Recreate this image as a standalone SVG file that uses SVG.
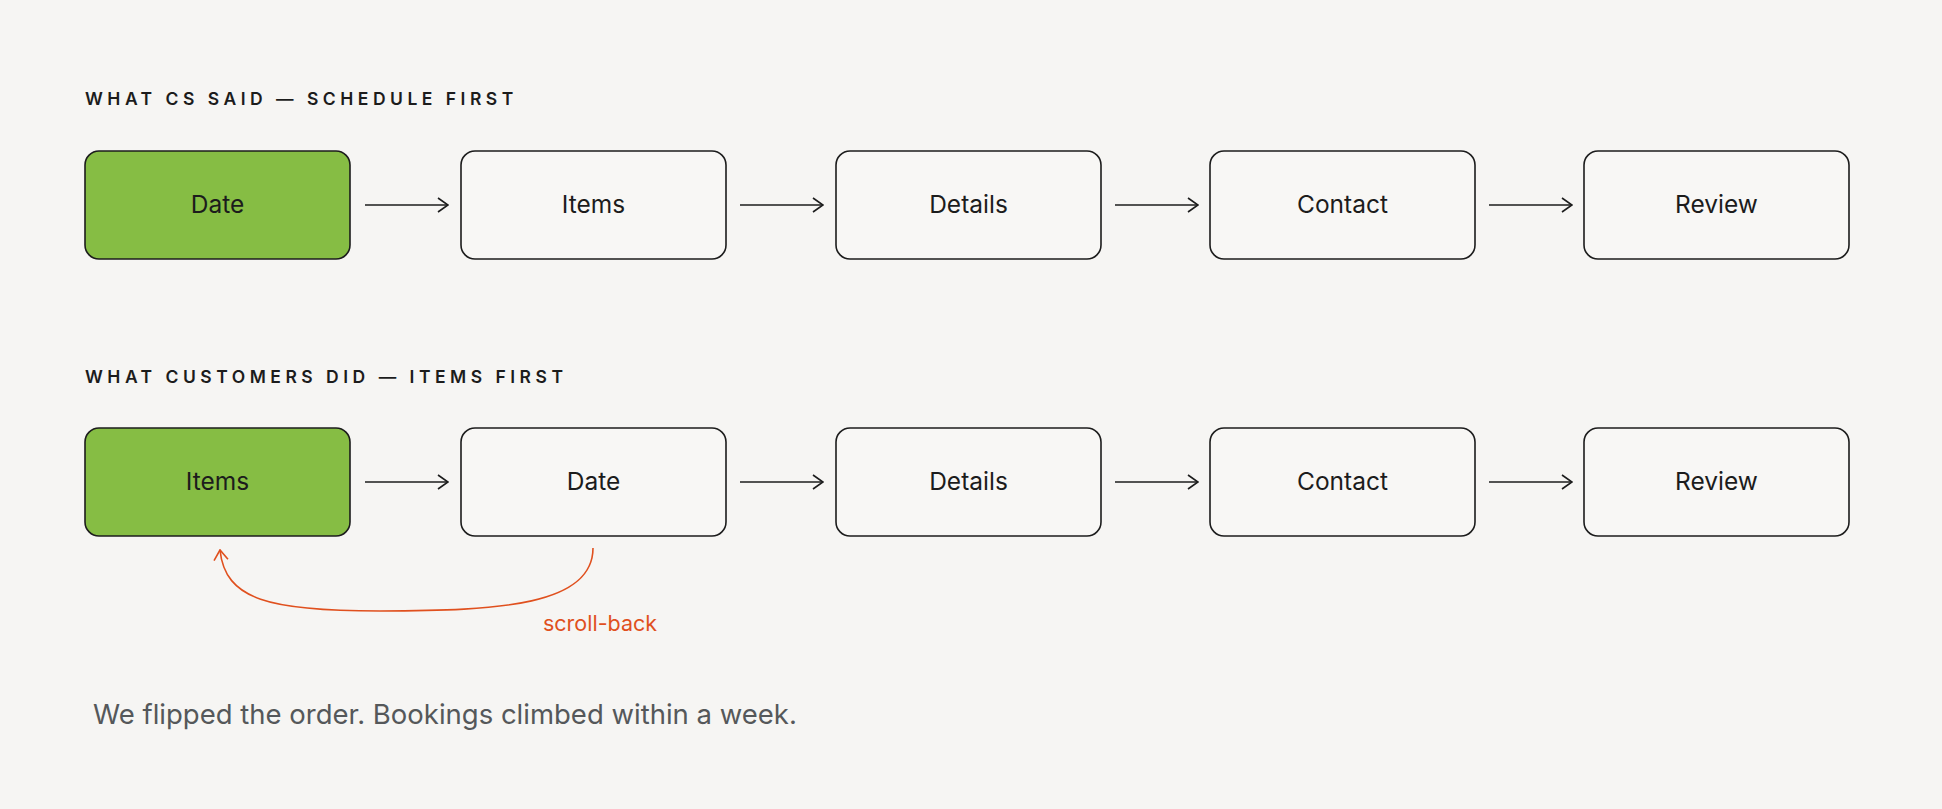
<svg xmlns="http://www.w3.org/2000/svg" width="1942" height="809" viewBox="0 0 1942 809">
<style>
.t{font-family:"Inter","Liberation Sans",sans-serif;font-size:17.5px;font-weight:600;letter-spacing:4.5px;fill:#1c1c1c}
.b{fill:#f8f7f5;stroke:#1c1c1c;stroke-width:1.6}
.g{fill:#86bd44}
.l{font-family:"Inter","Liberation Sans",sans-serif;font-size:24.5px;fill:#1c1c1c;text-anchor:middle}
.c{stroke:#1c1c1c;stroke-width:1.6;fill:none;marker-end:url(#a)}
</style>
<defs>
<marker id="a" viewBox="0 0 12 16" refX="11" refY="8" markerWidth="12" markerHeight="16" markerUnits="userSpaceOnUse" orient="auto"><path d="M1 1 L11 8 L1 15" fill="none" stroke="#1c1c1c" stroke-width="1.6"/></marker>
<marker id="o" viewBox="0 0 12 16" refX="11" refY="8" markerWidth="12" markerHeight="16" markerUnits="userSpaceOnUse" orient="auto"><path d="M1 1 L11 8 L1 15" fill="none" stroke="#e0501e" stroke-width="1.6"/></marker>
</defs>
<rect width="1942" height="809" fill="#f6f5f3"/>
<text class="t" x="85" y="105">WHAT CS SAID — SCHEDULE FIRST</text>
<text class="t" x="85" y="383">WHAT CUSTOMERS DID — ITEMS FIRST</text>
<g id="n1"><rect class="b g" x="85" y="151" width="265" height="108" rx="14"/><text class="l" x="217.5" y="213">Date</text></g>
<g id="n2"><rect class="b" x="461" y="151" width="265" height="108" rx="14"/><text class="l" x="593.5" y="213">Items</text></g>
<g id="n3"><rect class="b" x="836" y="151" width="265" height="108" rx="14"/><text class="l" x="968.5" y="213">Details</text></g>
<g id="n4"><rect class="b" x="1210" y="151" width="265" height="108" rx="14"/><text class="l" x="1342.5" y="213">Contact</text></g>
<g id="n5"><rect class="b" x="1584" y="151" width="265" height="108" rx="14"/><text class="l" x="1716.5" y="213">Review</text></g>
<g id="m1"><rect class="b g" x="85" y="428" width="265" height="108" rx="14"/><text class="l" x="217.5" y="490">Items</text></g>
<g id="m2"><rect class="b" x="461" y="428" width="265" height="108" rx="14"/><text class="l" x="593.5" y="490">Date</text></g>
<g id="m3"><rect class="b" x="836" y="428" width="265" height="108" rx="14"/><text class="l" x="968.5" y="490">Details</text></g>
<g id="m4"><rect class="b" x="1210" y="428" width="265" height="108" rx="14"/><text class="l" x="1342.5" y="490">Contact</text></g>
<g id="m5"><rect class="b" x="1584" y="428" width="265" height="108" rx="14"/><text class="l" x="1716.5" y="490">Review</text></g>
<g id="connectors">
<path class="c" d="M365 205 H448"/><path class="c" d="M740 205 H823"/><path class="c" d="M1115 205 H1198"/><path class="c" d="M1489 205 H1572"/>
<path class="c" d="M365 482 H448"/><path class="c" d="M740 482 H823"/><path class="c" d="M1115 482 H1198"/><path class="c" d="M1489 482 H1572"/>
<path d="M593 548 C593 605 500 611 380 611 C270 611 225 600 220 550" fill="none" stroke="#e0501e" stroke-width="1.6" marker-end="url(#o)"/>
<text x="600" y="631" font-family="Inter, 'Liberation Sans', sans-serif" font-size="21.5" fill="#e0501e" text-anchor="middle">scroll-back</text>
</g>
<text x="93" y="724" font-family="Inter, 'Liberation Sans', sans-serif" font-size="27.5" fill="#55585a">We flipped the order. Bookings climbed within a week.</text>
</svg>
